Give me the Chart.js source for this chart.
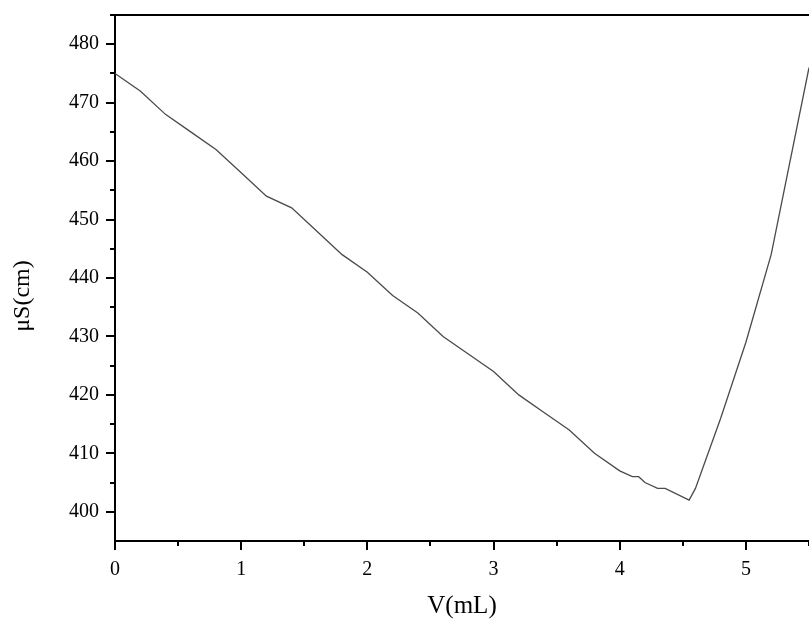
<!DOCTYPE html>
<html lang="en">
<head>
  <meta charset="UTF-8">
  <title>Conductometric titration</title>
  <script src="https://cdn.jsdelivr.net/npm/chart.js"></script>
  <style>
    html, body { margin: 0; padding: 0; background: #fff; }
    #wrap { width: 809px; height: 619px; }
  </style>
</head>
<body>
  <div id="wrap"><canvas id="condChart" width="809" height="619"></canvas></div>

  <script>
    const volume = [0, 0.2, 0.4, 0.6, 0.8, 1.0, 1.2, 1.4, 1.6, 1.8, 2.0, 2.2, 2.4, 2.6, 2.8, 3.0,
      3.2, 3.4, 3.6, 3.8, 4.0, 4.1, 4.15, 4.2, 4.3, 4.36, 4.55, 4.6, 4.8, 5.0, 5.2, 5.5];
    const conductivity = [475, 472, 468, 465, 462, 458, 454, 452, 448, 444, 441, 437, 434, 430, 427, 424,
      420, 417, 414, 410, 407, 406, 406, 405, 404, 404, 402, 404, 416, 429, 444, 476];

    const xMin = 0, xMax = 5.5, xStep = 0.5;
    const yMin = 395, yMax = 485, yStep = 5;
    const xTitle = 'V(mL)';
    const yTitle = 'μS(cm)';

    const serif = 'Liberation Serif';

    function isMajor(v, every) {
      return Math.abs(v / every - Math.round(v / every)) < 1e-6;
    }

    // short minor ticks, top border line and y title
    const framePlugin = {
      id: 'frame',
      afterDraw(chart) {
        const ctx = chart.ctx;
        const area = chart.chartArea;
        const xs = chart.scales.x, ys = chart.scales.y;
        ctx.save();
        ctx.strokeStyle = '#000';
        ctx.lineWidth = 2;
        ctx.beginPath();
        ctx.moveTo(area.left - 1, area.top);
        ctx.lineTo(area.right, area.top);
        ctx.stroke();

        xs.ticks.forEach(t => {
          if (!isMajor(t.value, 1)) {
            const px = Math.round(xs.getPixelForValue(t.value));
            ctx.beginPath();
            ctx.moveTo(px, area.bottom);
            ctx.lineTo(px, area.bottom + 5);
            ctx.stroke();
          }
        });
        ys.ticks.forEach(t => {
          if (!isMajor(t.value, 10) && t.value > yMin) {
            const py = Math.round(ys.getPixelForValue(t.value));
            ctx.beginPath();
            ctx.moveTo(area.left, py);
            ctx.lineTo(area.left - 5, py);
            ctx.stroke();
          }
        });

        ctx.translate(23, 296);
        ctx.rotate(-Math.PI / 2);
        ctx.fillStyle = '#000';
        ctx.font = '24px "' + serif + '"';
        ctx.textAlign = 'center';
        ctx.textBaseline = 'middle';
        ctx.fillText(yTitle, 0, 0);
        ctx.restore();
      }
    };

    const config = {
      type: 'line',
      data: {
        datasets: [{
          data: volume.map((v, i) => ({ x: v, y: conductivity[i] })),
          borderColor: '#4a4a4a',
          borderWidth: 1.3,
          pointRadius: 0,
          fill: false,
          tension: 0
        }]
      },
      options: {
        responsive: false,
        animation: false,
        layout: { padding: { top: 15, right: 0, left: 0, bottom: 0 } },
        plugins: {
          legend: { display: false },
          tooltip: { enabled: false }
        },
        scales: {
          x: {
            type: 'linear',
            min: xMin,
            max: xMax,
            afterFit(scale) {
              scale.height = 78;
              scale.paddingRight = 0;
              scale.paddingLeft = 0;
            },
            border: { display: true, color: '#000', width: 2 },
            grid: {
              drawOnChartArea: false,
              drawTicks: true,
              tickLength: 9,
              lineWidth: 2,
              color: ctx => isMajor(ctx.tick.value, 1) ? '#000' : 'rgba(0,0,0,0)'
            },
            ticks: {
              stepSize: xStep,
              autoSkip: false,
              maxRotation: 0,
              padding: 8,
              color: '#000',
              font: { family: serif, size: 20 },
              callback: v => isMajor(v, 1) ? String(v) : ''
            },
            title: {
              display: true,
              text: xTitle,
              color: '#000',
              font: { family: serif, size: 25 },
              padding: { top: 0, bottom: -2 }
            }
          },
          y: {
            type: 'linear',
            min: yMin,
            max: yMax,
            afterFit(scale) {
              scale.width = 115;
              scale.paddingTop = 0;
              scale.paddingBottom = 0;
            },
            border: { display: true, color: '#000', width: 2 },
            grid: {
              drawOnChartArea: false,
              drawTicks: true,
              tickLength: 9,
              lineWidth: 2,
              color: ctx => isMajor(ctx.tick.value, 10) ? '#000' : 'rgba(0,0,0,0)'
            },
            ticks: {
              stepSize: yStep,
              autoSkip: false,
              padding: 7,
              color: '#000',
              font: { family: serif, size: 20 },
              callback: v => isMajor(v, 10) ? String(v) : ''
            }
          }
        }
      },
      plugins: [framePlugin]
    };

    new Chart(document.getElementById('condChart').getContext('2d'), config);
  </script>
</body>
</html>
